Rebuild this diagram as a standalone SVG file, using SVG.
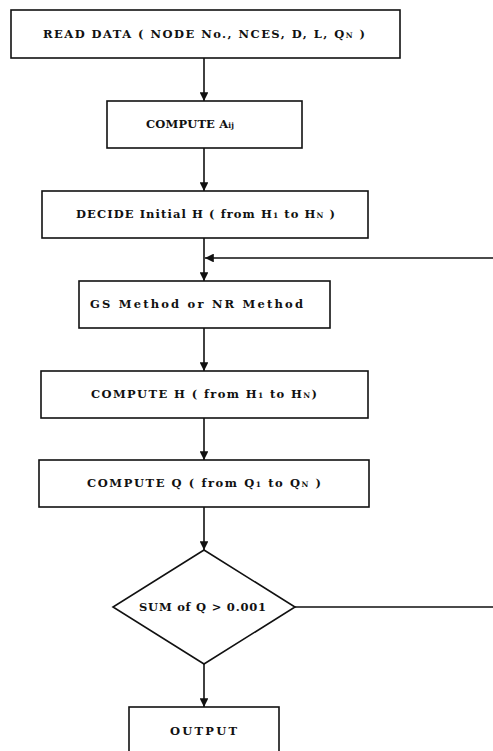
<svg xmlns="http://www.w3.org/2000/svg" width="493" height="751" viewBox="0 0 493 751">
<defs>
<style>
.box{fill:#fff;stroke:#111;stroke-width:1.6}
.t{font-family:"DejaVu Serif","Liberation Serif",serif;font-weight:bold;font-size:11.5px;fill:#111}
.s{font-size:7.5px}
.c{fill:none;stroke:#111;stroke-width:1.6}
</style>
<marker id="ah" viewBox="0 0 10 10" refX="10" refY="5" markerWidth="5.5" markerHeight="5.5" orient="auto" markerUnits="strokeWidth">
<path d="M0,0 L10,5 L0,10 Z" fill="#111"/>
</marker>
</defs>
<rect width="493" height="751" fill="#fff"/>
<g id="connectors">
<line class="c" x1="204" y1="58" x2="204" y2="101" marker-end="url(#ah)"/>
<line class="c" x1="204" y1="148" x2="204" y2="191" marker-end="url(#ah)"/>
<line class="c" x1="204" y1="238" x2="204" y2="281" marker-end="url(#ah)"/>
<line class="c" x1="204" y1="328" x2="204" y2="371" marker-end="url(#ah)"/>
<line class="c" x1="204" y1="418" x2="204" y2="460" marker-end="url(#ah)"/>
<line class="c" x1="204" y1="507" x2="204" y2="550" marker-end="url(#ah)"/>
<line class="c" x1="204" y1="664" x2="204" y2="707" marker-end="url(#ah)"/>
<path class="c" d="M295,607 H496 V258 H205" marker-end="url(#ah)"/>
</g>
<g id="read">
<rect class="box" x="11" y="10" width="389" height="48"/>
<text class="t" x="43" y="38" textLength="322" lengthAdjust="spacing">READ  DATA ( NODE No., NCES, D, L, Q<tspan class="s">N</tspan> )</text>
</g>
<g id="aij">
<rect class="box" x="107" y="101" width="195" height="47"/>
<text class="t" x="146" y="128" textLength="88" lengthAdjust="spacing">COMPUTE  A<tspan class="s">ij</tspan></text>
</g>
<g id="decide">
<rect class="box" x="42" y="191" width="326" height="47"/>
<text class="t" x="76" y="218" textLength="259" lengthAdjust="spacing">DECIDE Initial  H ( from H<tspan class="s">1</tspan> to H<tspan class="s">N</tspan> )</text>
</g>
<g id="method">
<rect class="box" x="79" y="281" width="251" height="47"/>
<text class="t" x="90" y="308" textLength="213" lengthAdjust="spacing">GS Method  or  NR Method</text>
</g>
<g id="computeH">
<rect class="box" x="41" y="371" width="327" height="47"/>
<text class="t" x="91" y="398" textLength="226" lengthAdjust="spacing">COMPUTE  H ( from H<tspan class="s">1</tspan> to H<tspan class="s">N</tspan>)</text>
</g>
<g id="computeQ">
<rect class="box" x="39" y="460" width="330" height="47"/>
<text class="t" x="87" y="487" textLength="234" lengthAdjust="spacing">COMPUTE  Q ( from Q<tspan class="s">1</tspan> to Q<tspan class="s">N</tspan> )</text>
</g>
<g id="decision">
<polygon class="box" points="204,550 295,607 204,664 113,607"/>
<text class="t" x="139" y="611" textLength="127" lengthAdjust="spacing">SUM of Q &gt; 0.001</text>
</g>
<g id="output">
<rect class="box" x="129" y="707" width="150" height="60"/>
<text class="t" x="170" y="735" textLength="67" lengthAdjust="spacing">OUTPUT</text>
</g>
</svg>
